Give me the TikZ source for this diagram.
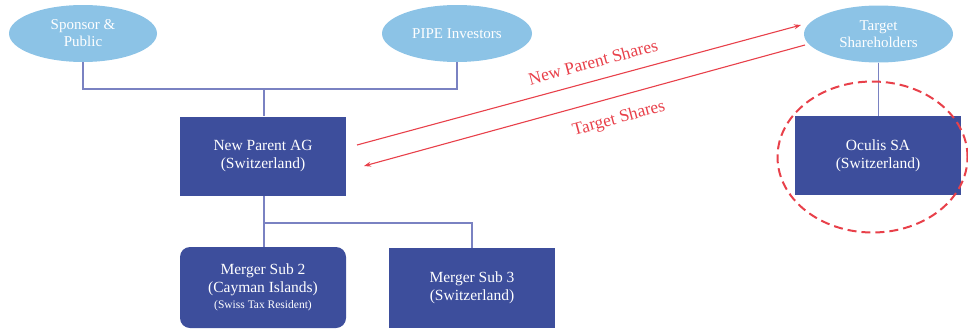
\documentclass[tikz,border=0pt]{standalone}
\usepackage{fontspec}
\setmainfont{Liberation Serif}
\usetikzlibrary{shapes.geometric,arrows.meta}
\definecolor{lblue}{HTML}{8CC3E6}
\definecolor{dblue}{HTML}{3D4E9C}
\definecolor{lline}{HTML}{7A82C2}
\definecolor{rred}{HTML}{E8404A}
\tikzset{
  holder/.style={ellipse,fill=lblue,text=white,minimum width=#1,minimum height=57pt,inner sep=0pt,align=center,font=\fontsize{15}{17}\selectfont},
  entity/.style={rectangle,fill=dblue,text=white,minimum width=166pt,minimum height=79pt,inner sep=0pt,align=center,font=\fontsize{15.5}{18}\selectfont},
  conn/.style={draw=lline,line width=1.3pt},
  flow/.style={draw=rred,line width=1.1pt,-{Stealth[length=7pt,width=5pt]}},
  flowlabel/.style={text=rred,font=\fontsize{17.5}{19}\selectfont,rotate=15.2,inner sep=0pt}
}
\begin{document}
\begin{tikzpicture}[x=1pt,y=-1pt]
\useasboundingbox (0,0) rectangle (968,332);
\node[holder=148pt] (sp) at (83,33.5) {Sponsor \&\\Public};
\node[holder=150pt] (pipe) at (457,33.5) {PIPE Investors};
\node[holder=149pt] (ts) at (878.5,34) {Target\\Shareholders};
\node[entity] (np) at (263,156) {New Parent AG\\(Switzerland)};
\node[entity] (oc) at (878,155.5) {Oculis SA\\(Switzerland)};
\node[entity,rounded corners=10pt,minimum height=81pt] (m2) at (263,287.5) {Merger Sub 2\\(Cayman Islands)\\[-2pt]{\fontsize{11.5}{13}\selectfont(Swiss Tax Resident)}};
\node[entity,minimum height=80pt] (m3) at (472,288) {Merger Sub 3\\(Switzerland)};
\coordinate (j1) at (264,89);
\coordinate (j2) at (264,223);
\draw[conn] (sp.south) |- (j1) -| (pipe.south);
\draw[conn] (j1) -- (np.north -| j1);
\draw[conn] (np.south -| j2) -- (m2.north -| j2);
\draw[conn] (j2) -| (m3.north);
\draw[conn] (ts.south) -- (oc.north -| ts.south);
\node[draw=rred,dashed,dash pattern=on 9pt off 5pt,line width=2pt,ellipse,minimum width=190pt,minimum height=151pt] (ring) at (872.5,157) {};
\coordinate (a1s) at (357,145);
\coordinate (a1e) at (801,25);
\coordinate (a2s) at (805,45);
\coordinate (a2e) at (364,166);
\draw[flow] (a1s) -- (a1e);
\draw[flow] (a2s) -- (a2e);
\node[flowlabel] (l1) at (593,62) {New Parent Shares};
\node[flowlabel] (l2) at (619,119) {Target Shares};
\end{tikzpicture}
\end{document}
